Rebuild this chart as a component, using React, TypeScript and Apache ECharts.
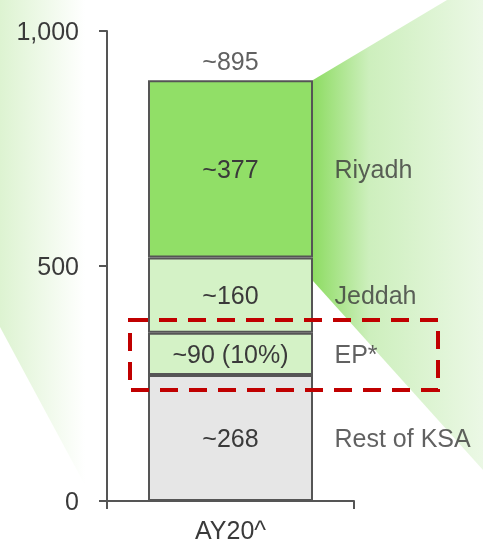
import React, { useEffect, useRef } from 'react';
import * as echarts from 'echarts';

const categories = ['AY20^'];
const segmentNames = ['Rest of KSA', 'EP*', 'Jeddah', 'Riyadh'];
const segmentValues = [268, 90, 160, 377];
const segmentLabels = ['~268', '~90 (10%)', '~160', '~377'];
const segmentColors = ['#E6E6E6', '#D4F2C6', '#D4F2C6', '#91DF67'];
const totalValue = 895;
const totalLabel = '~895';
const yTickValues = [0, 500, 1000];
const yTickLabels = ['0', '500', '1,000'];

const FONT = 'Liberation Sans, Arial, sans-serif';
const FS = 25;
const TEXT = '#3A3A3A';
const AXIS = '#555555';

export default function App() {
  const ref = useRef<HTMLDivElement>(null);

  useEffect(() => {
    if (!ref.current) return;
    const chart = echarts.init(ref.current, undefined, { renderer: 'svg' });

    const mids: number[] = [];
    let acc = 0;
    segmentValues.forEach((v) => {
      mids.push(acc + v / 2);
      acc += v;
    });

    const barSeries = segmentNames.map((name, i) => ({
      type: 'bar',
      name,
      stack: 'total',
      data: [segmentValues[i]],
      barWidth: 165,
      z: 3,
      itemStyle: { color: segmentColors[i], borderColor: AXIS, borderWidth: 2 },
      label: {
        show: true,
        position: 'inside',
        formatter: segmentLabels[i],
        color: TEXT,
        fontSize: FS,
        fontFamily: FONT,
      },
    }));

    const option: any = {
      animation: false,
      grid: { left: 107, right: 129, top: 31, bottom: 47, outerBoundsMode: 'none' },
      xAxis: {
        type: 'category',
        data: categories,
        boundaryGap: true,
        axisLine: { show: true, lineStyle: { color: AXIS, width: 2 } },
        axisTick: { show: true, length: 8, lineStyle: { color: AXIS, width: 2 } },
        axisLabel: { color: TEXT, fontSize: FS, fontFamily: FONT, margin: 16 },
        splitLine: { show: false },
      },
      yAxis: {
        type: 'value',
        min: 0,
        max: 1000,
        interval: 500,
        axisLine: { show: true, lineStyle: { color: AXIS, width: 2 } },
        axisTick: { show: true, length: 8, lineStyle: { color: AXIS, width: 2 } },
        axisLabel: {
          color: TEXT,
          fontSize: FS,
          fontFamily: FONT,
          margin: 28,
          formatter: (v: number) => {
            const idx = yTickValues.indexOf(v);
            return idx >= 0 ? yTickLabels[idx] : '';
          },
        },
        splitLine: { show: false },
      },
      series: [
        ...barSeries,
        {
          type: 'scatter',
          symbolSize: 0,
          z: 4,
          data: mids.map((m) => [0, m]),
          label: {
            show: true,
            position: 'right',
            distance: 104,
            formatter: (p: any) => segmentNames[p.dataIndex],
            color: TEXT,
            fontSize: FS,
            fontFamily: FONT,
          },
          silent: true,
        },
        {
          type: 'scatter',
          symbolSize: 0,
          z: 4,
          data: [[0, totalValue]],
          label: {
            show: true,
            position: 'top',
            distance: 7,
            formatter: totalLabel,
            color: TEXT,
            fontSize: FS,
            fontFamily: FONT,
          },
          silent: true,
        },
      ],
      graphic: [
        {
          type: 'polygon',
          z: -1,
          silent: true,
          shape: { points: [[0, 0], [100, 0], [100, 513], [0, 327]] },
          style: {
            fill: new echarts.graphic.LinearGradient(0, 0, 1, 0, [
              { offset: 0, color: '#DDF3D1' },
              { offset: 0.85, color: '#FFFFFF' },
              { offset: 1, color: '#FFFFFF' },
            ]),
          },
        },
        {
          type: 'polygon',
          z: -1,
          silent: true,
          shape: { points: [[313, 80], [447, 0], [483, 0], [483, 470], [313, 281]] },
          style: {
            fill: new echarts.graphic.LinearGradient(0, 0, 1, 0, [
              { offset: 0, color: '#8EDC63' },
              { offset: 0.33, color: '#CDEFBD' },
              { offset: 1, color: '#EBF8E5' },
            ]),
          },
        },
        {
          type: 'rect',
          z: 100,
          silent: true,
          shape: { x: 130, y: 320, width: 308, height: 70 },
          style: {
            fill: 'none',
            stroke: '#C00000',
            lineWidth: 4,
            lineDash: [18, 11],
          },
        },
      ],
    };

    chart.setOption(option);
    return () => chart.dispose();
  }, []);

  return (
    <div
      ref={ref}
      style={{ position: 'fixed', left: 0, top: 0, width: 483, height: 548 }}
    />
  );
}
